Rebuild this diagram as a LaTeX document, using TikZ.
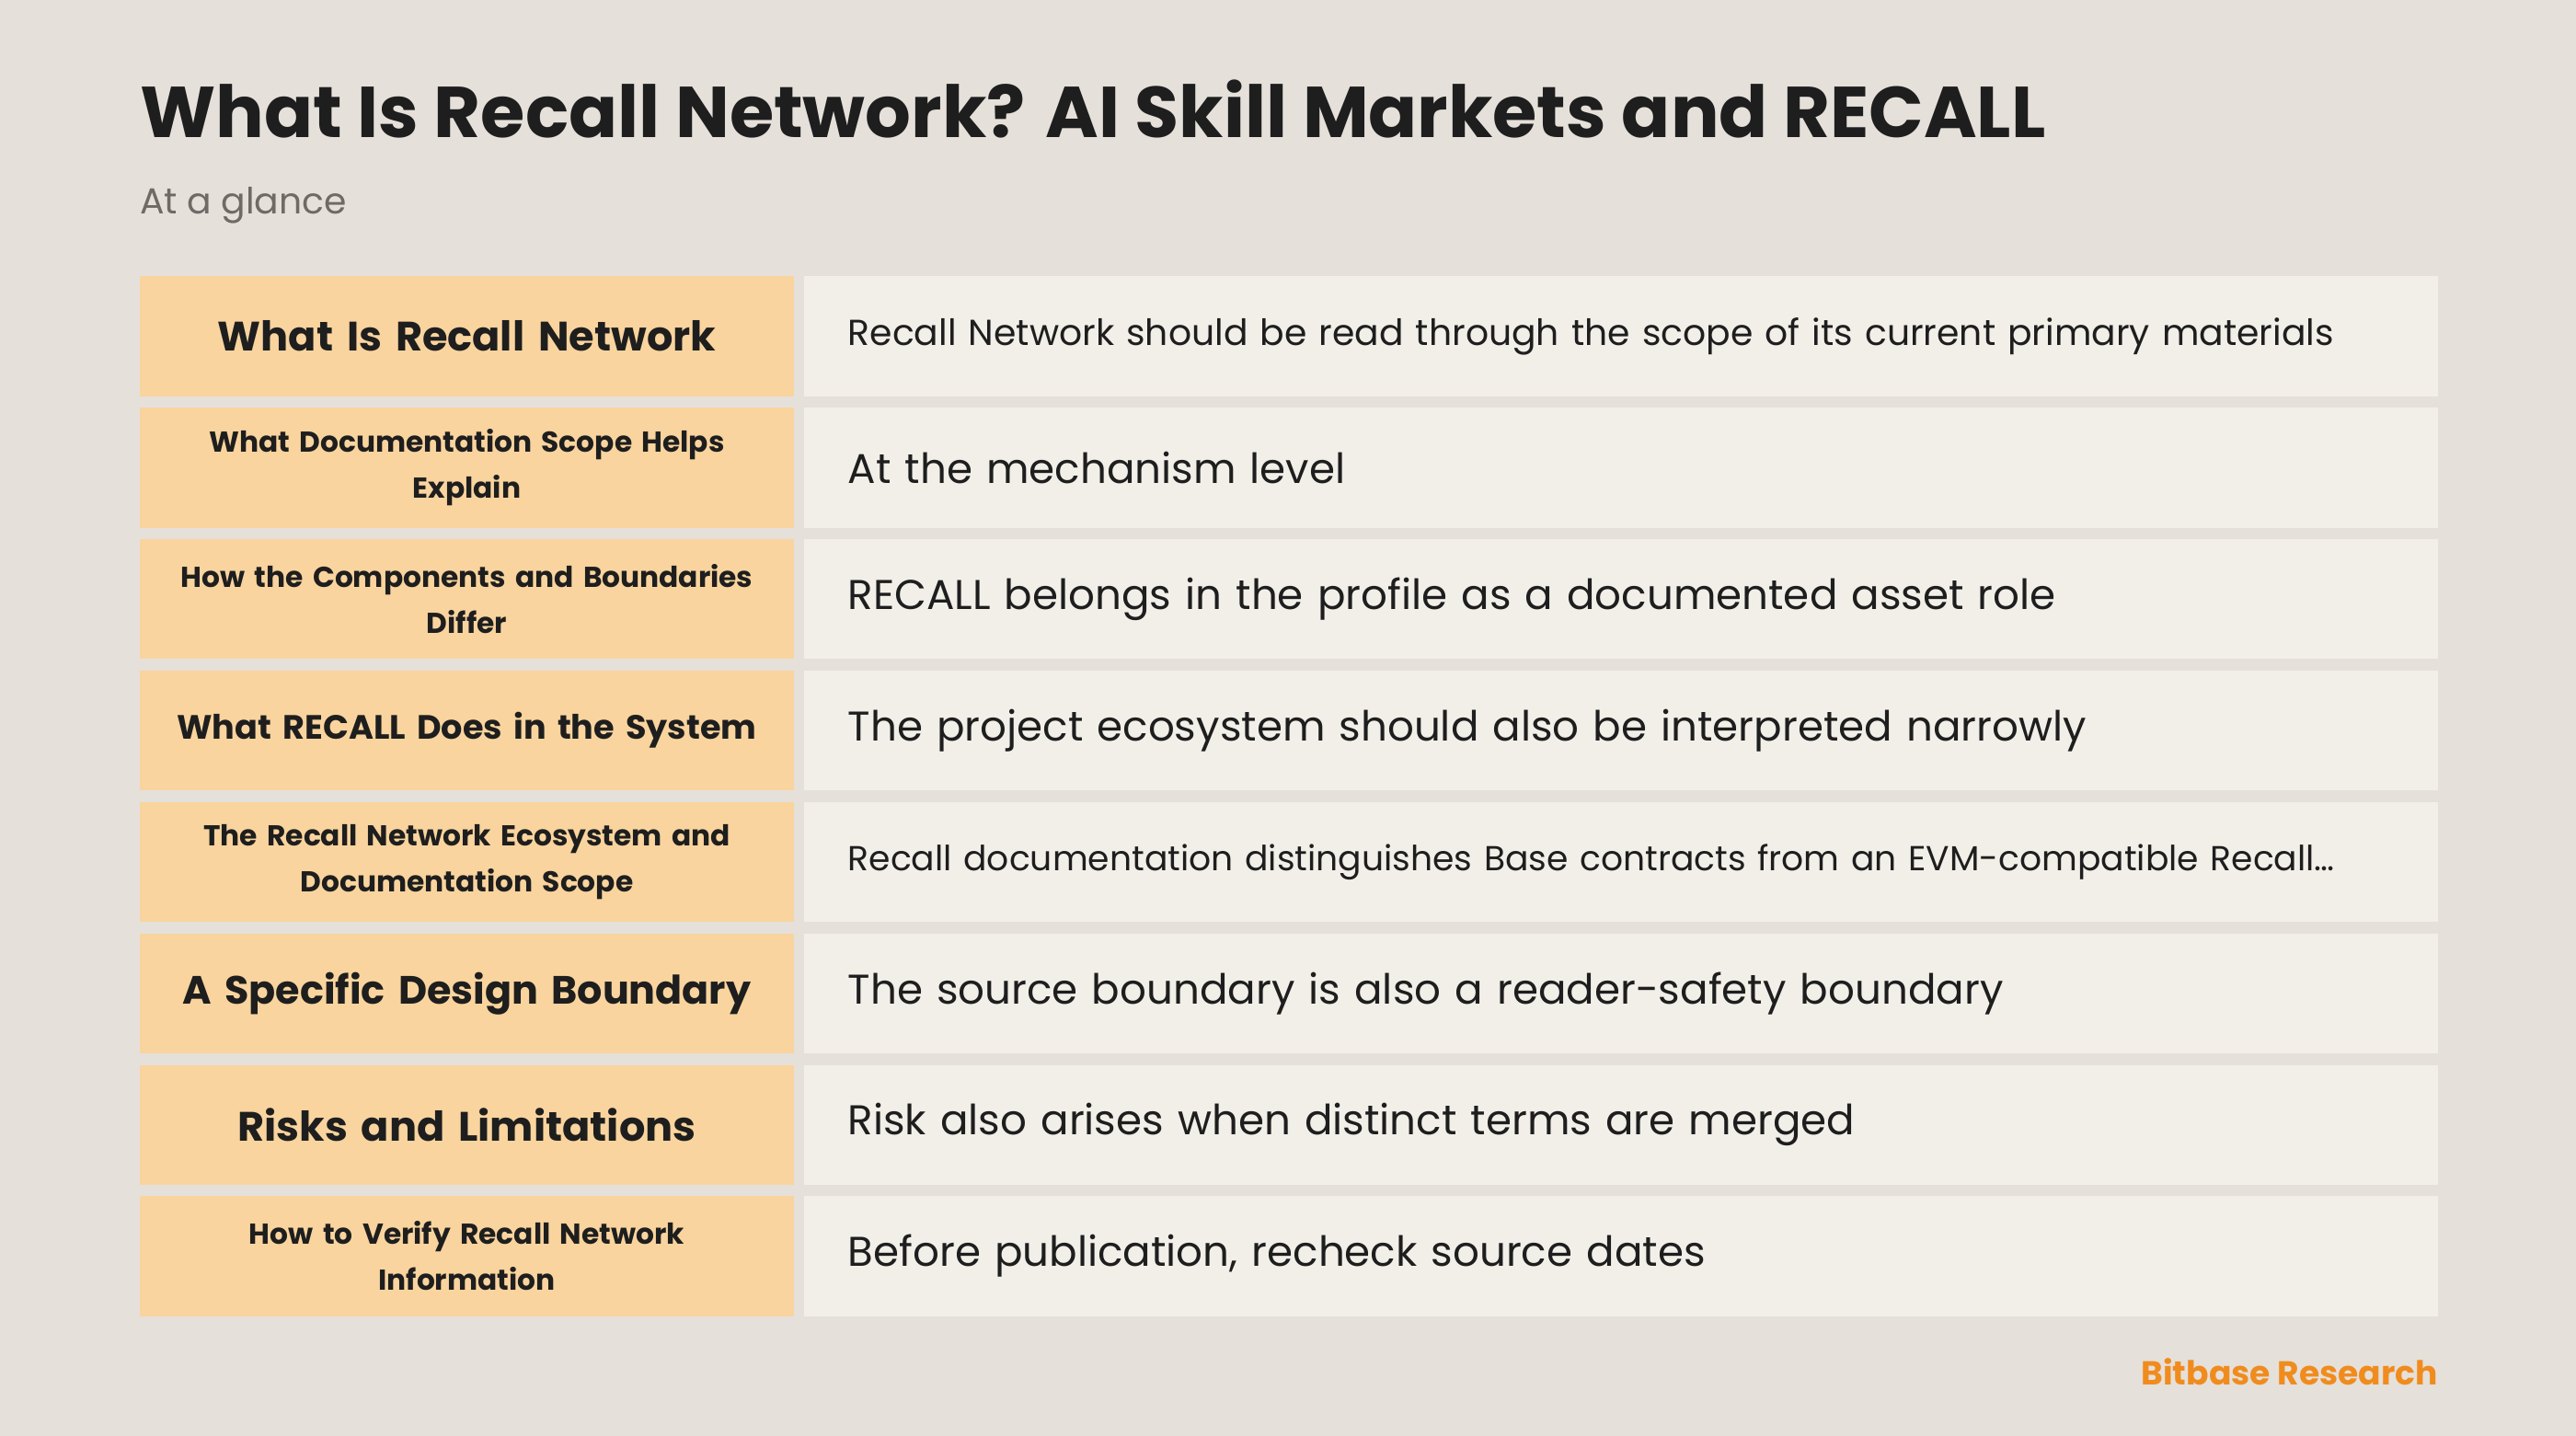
\documentclass[tikz,border=0pt]{standalone}
\usepackage{fontspec}
\setmainfont{Poppins}
\definecolor{pagebg}{HTML}{E5E0DA}
\definecolor{keybg}{HTML}{F9D49E}
\definecolor{valbg}{HTML}{F2EFE9}
\definecolor{ink}{HTML}{1E1E1E}
\definecolor{soft}{HTML}{6E6A66}
\definecolor{brand}{HTML}{F08C1E}
\tikzset{
  key/.style={fill=keybg, anchor=north west, minimum width=398pt, minimum height=73pt,
    text width=380pt, align=center, inner sep=0pt, text=ink, font=\bfseries},
  val/.style={fill=valbg, anchor=north west, minimum width=995pt, minimum height=73pt,
    text width=995pt, align=left, inner sep=0pt, text=ink},
}
\begin{document}
\begin{tikzpicture}[x=1pt,y=-1pt]
  \useasboundingbox[fill=pagebg] (0,0) rectangle (1568,874);
  % heading
  \node[anchor=base west, inner sep=0pt, text=ink, font=\fontsize{43.8}{50}\selectfont\bfseries] (title) at (85,84) {What Is Recall Network? AI Skill Markets and RECALL};
  \node[anchor=base west, inner sep=0pt, text=soft, font=\fontsize{22}{26}\selectfont] (sub) at (85,130) {At a glance};

  % rows
  \foreach \i/\kf/\k/\vf/\v in {
    0/25/{What Is Recall Network}/22/{Recall Network should be read through the scope of its current primary materials},
    1/17.5/{What Documentation Scope Helps\\Explain}/25.3/{At the mechanism level},
    2/17.5/{How the Components and Boundaries\\Differ}/25.3/{RECALL belongs in the profile as a documented asset role},
    3/20.5/{What RECALL Does in the System}/25.3/{The project ecosystem should also be interpreted narrowly},
    4/17.5/{The Recall Network Ecosystem and\\Documentation Scope}/21.1/{Recall documentation distinguishes Base contracts from an EVM-compatible Recall\ldots},
    5/24/{A Specific Design Boundary}/25.3/{The source boundary is also a reader-safety boundary},
    6/25/{Risks and Limitations}/25.3/{Risk also arises when distinct terms are merged},
    7/17.5/{How to Verify Recall Network\\Information}/25.3/{Before publication, recheck source dates}}
  {
    \node[key, font=\fontsize{\kf}{28}\selectfont\bfseries] (key\i) at (85,168+80*\i) {\k};
    \node[val, font=\fontsize{\vf}{28}\selectfont] (val\i) at (489,168+80*\i) {\hspace*{27pt}\v};
  }

  % footer
  \node[anchor=base east, inner sep=0pt, text=brand, font=\fontsize{20.2}{22}\selectfont\bfseries] (brandmark) at (1484,843) {Bitbase Research};
\end{tikzpicture}
\end{document}
